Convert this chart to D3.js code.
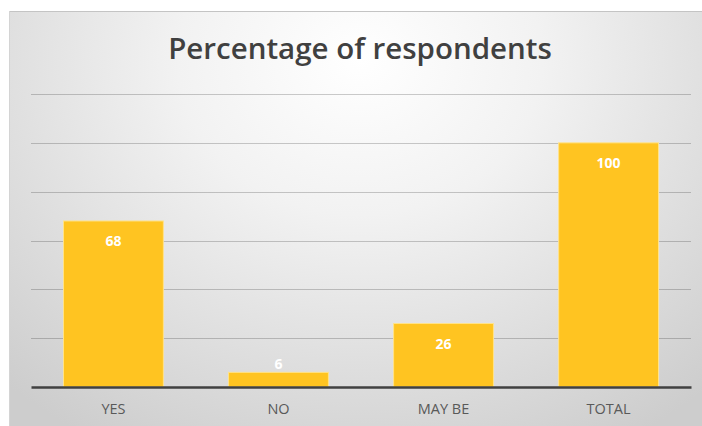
<!DOCTYPE html>
<html>
<head>
<meta charset="utf-8">
<script src="https://cdn.jsdelivr.net/npm/d3@7"></script>
<style>
  html, body { margin: 0; padding: 0; background: #ffffff; }
  svg { display: block; }
</style>
</head>
<body>
<svg id="chart" width="702" height="426"></svg>
<script>
// Survey answers and their share of respondents (%)
const categories = ["YES", "NO", "MAY BE", "TOTAL"];
const values = [68, 6, 26, 100];
const yTicks = [0, 20, 40, 60, 80, 100, 120];
const titleText = "Percentage of respondents";

const svg = d3.select("#chart");
const W = 702, H = 426;

// Chart panel with a soft radial backdrop
const defs = svg.append("defs");
const grad = defs.append("radialGradient")
  .attr("id", "bg")
  .attr("gradientUnits", "userSpaceOnUse")
  .attr("cx", 360).attr("cy", 60).attr("r", 520)
  .attr("gradientTransform", "translate(360,60) scale(1,0.85) translate(-360,-60)");
grad.append("stop").attr("offset", "0%").attr("stop-color", "#ffffff");
grad.append("stop").attr("offset", "35%").attr("stop-color", "#f2f2f2");
grad.append("stop").attr("offset", "100%").attr("stop-color", "#cdcdcd");

svg.append("rect")
  .attr("x", 9).attr("y", 11)
  .attr("width", W - 9).attr("height", H - 11)
  .attr("fill", "url(#bg)");
svg.append("line")
  .attr("x1", 9).attr("x2", W).attr("y1", 11.5).attr("y2", 11.5)
  .attr("stroke", "#c4c4c4").attr("stroke-width", 1);
svg.append("line")
  .attr("x1", 9.5).attr("x2", 9.5).attr("y1", 11).attr("y2", H)
  .attr("stroke", "#d4d4d4").attr("stroke-width", 1);

// Plot area
const plot = { left: 31, right: 691, top: 94, bottom: 387 };

const x = d3.scaleBand()
  .domain(categories)
  .range([plot.left, plot.right])
  .paddingInner(0.395)
  .paddingOuter(0.197);

const y = d3.scaleLinear()
  .domain([0, 120])
  .range([plot.bottom, plot.top]);

// Horizontal gridlines (translucent so they darken with the backdrop)
svg.append("g")
  .selectAll("line")
  .data(yTicks.filter(t => t > 0))
  .join("line")
  .attr("x1", plot.left).attr("x2", plot.right)
  .attr("y1", d => Math.round(y(d)) + 0.5)
  .attr("y2", d => Math.round(y(d)) + 0.5)
  .attr("stroke", "#000000")
  .attr("stroke-opacity", 0.2)
  .attr("stroke-width", 1);

// Bars
svg.append("g")
  .selectAll("rect")
  .data(values)
  .join("rect")
  .attr("x", (d, i) => x(categories[i]))
  .attr("y", d => y(d))
  .attr("width", x.bandwidth())
  .attr("height", d => y(0) - y(d))
  .attr("fill", "#ffc421")
  .attr("stroke", "#ffe38a")
  .attr("stroke-width", 1);

// Value labels
svg.append("g")
  .selectAll("text")
  .data(values)
  .join("text")
  .attr("x", (d, i) => x(categories[i]) + x.bandwidth() / 2)
  .attr("y", d => (y(0) - y(d) > 30) ? y(d) + 25 : y(d) - 3)
  .attr("text-anchor", "middle")
  .attr("font-family", "'Open Sans', sans-serif")
  .attr("font-weight", 700)
  .attr("font-size", 14)
  .attr("fill", "#ffffff")
  .text(d => d);

// Baseline axis
const xAxis = svg.append("g")
  .attr("transform", `translate(0,${plot.bottom})`)
  .call(d3.axisBottom(x).tickSize(0).tickPadding(17));
xAxis.select(".domain")
  .attr("stroke", "#404040")
  .attr("stroke-width", 2.5);
xAxis.selectAll(".tick text")
  .attr("font-family", "'Open Sans', sans-serif")
  .attr("font-size", 14.5)
  .attr("fill", "#595959");

// Title
svg.append("text")
  .attr("x", 360).attr("y", 59)
  .attr("text-anchor", "middle")
  .attr("font-family", "'Open Sans', sans-serif")
  .attr("font-weight", 600)
  .attr("font-size", 29.5)
  .attr("fill", "#404040")
  .text(titleText);
</script>
</body>
</html>
